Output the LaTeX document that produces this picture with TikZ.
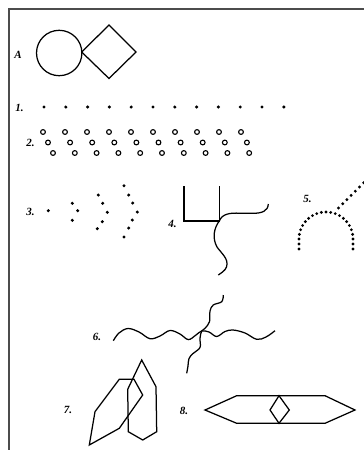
\documentclass[tikz,border=0pt]{standalone}
\usepackage{fontspec}
\setmainfont{Liberation Serif}
\begin{document}
\begin{tikzpicture}[x=1pt,y=-1pt,
  lbl/.style={font=\fontsize{11}{13}\selectfont\bfseries\itshape, inner sep=0pt},
  ln/.style={line width=1.25pt, line join=miter},
  ring/.style={line width=1.1pt},
  framel/.style={draw=black!70, line width=1.5pt}]
\useasboundingbox (0,0) rectangle (364,450);
\fill[white] (0,0) rectangle (364,450);
\draw[framel] (9,451) -- (9,9) -- (365,9);

% A
\node[lbl] (lA) at (18,55) {A};
\draw[ln] (59.2,53) circle[radius=22.7pt];
\draw[ln] (81.7,52) -- (109,25) -- (136,52) -- (109,78.5) -- cycle;

% 1
\node[lbl] (l1) at (19.5,108) {1.};
\foreach \i in {0,...,11} \fill (44+21.8*\i,107) circle[radius=1.7pt];

% 2
\node[lbl] (l2) at (30.5,143) {2.};
\foreach \i in {0,...,9} {
  \draw[ring] (43+22*\i,132) circle[radius=2.4pt];
  \draw[ring] (48+22.1*\i,142.5) circle[radius=2.4pt];
  \draw[ring] (53+21.8*\i,153) circle[radius=2.4pt];
}

% 3
\node[lbl] (l3) at (30.5,211.5) {3.};
\foreach \x/\y in {48.3/210.7, 72.3/203.3, 77.7/210.7, 72.3/220.3,
  98.3/195, 102.7/203.3, 107.3/212.3, 102.3/221.7, 97.3/228.7,
  124/185.7, 128.7/195, 132.7/203, 137.3/212, 132.3/220, 128.7/228, 124/237}
  \fill (\x,\y) circle[radius=1.7pt];

% 4
\node[lbl] (l4) at (172.5,223.5) {4.};
\draw[ln] (184,186) -- (184,221) -- (219.3,221) -- (219.3,186);
\draw[ln] (219.3,221) .. controls (222,214) and (230,212.5) .. (240,213.3) -- (253,213.3) .. controls (262,213.3) and (268,211) .. (268.3,204);
\draw[ln] (219.3,221) .. controls (214,228) and (212,238) .. (217,247) .. controls (222,254) and (229,259) .. (226.5,267) .. controls (225,271) and (221,273) .. (218.3,275);

% 5
\node[lbl] (l5) at (307.5,199) {5.};
\foreach \k in {0,...,18} \fill ({326+27*cos(180-10*\k)},{239-27*sin(180-10*\k)}) circle[radius=1.6pt];
\foreach \y in {244,249} {\fill (299,\y) circle[radius=1.6pt]; \fill (353,\y) circle[radius=1.6pt];}
\foreach \k in {0,...,6} \fill ({338.5+4.2*\k},{208-4.2*\k}) circle[radius=1.6pt];

% 6
\node[lbl] (l6) at (97,336.5) {6.};
\draw[ln] plot[smooth, tension=0.6] coordinates {(113.3,340.7) (119,333) (128,328.5) (139,332) (150,338.7) (160,336) (170,330.5) (180,334) (188.3,339.6) (196,335) (201.7,331) (209,332) (216.7,336.5) (225,331.5) (233,330) (245,333) (256.7,339.3) (266,337) (275,330.7)};
\draw[ln] plot[smooth, tension=0.6] coordinates {(223.3,295) (221.7,301.7) (213.3,305) (210,311) (209.5,321.7) (205,328.3) (201.7,331) (200,338.3) (200,347.5) (193.3,353.3) (189,358.5) (188,366) (186.7,373.3)};

% 7
\node[lbl] (l7) at (68,410) {7.};
\draw[ln] (119.3,379.3) -- (134,379.3) -- (142.7,395) -- (119.3,428.3) -- (89.3,445) -- (95,411.7) -- cycle;
\draw[ln] (141.7,360) -- (156,386.7) -- (156.7,431.7) -- (142.7,440) -- (128.3,431.7) -- (127.7,389.3) -- cycle;

% 8
\node[lbl] (l8) at (184,410.5) {8.};
\draw[ln] (205,410) -- (236.7,395.7) -- (325,395.7) -- (355,410) -- (325,423.3) -- (236.7,423.3) -- cycle;
\draw[ln] (279,395.7) -- (289.3,410) -- (279,423.3) -- (270,410) -- cycle;
\end{tikzpicture}
\end{document}
